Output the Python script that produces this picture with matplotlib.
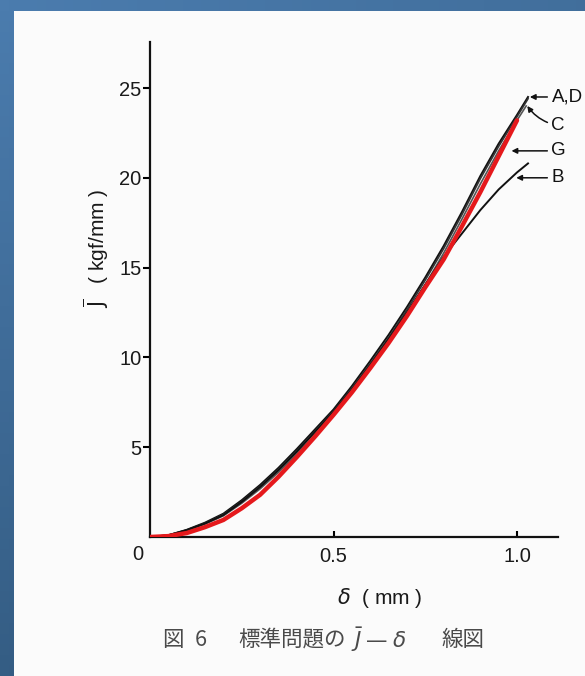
import numpy as np
import matplotlib
matplotlib.use("Agg")
import matplotlib.pyplot as plt
from matplotlib.patches import Rectangle

# deflection delta (mm) and J (kgf/mm)
delta_A = [0, 0.05, 0.1, 0.15, 0.2, 0.25, 0.3, 0.35, 0.4, 0.45, 0.5, 0.55, 0.6,
           0.65, 0.7, 0.75, 0.8, 0.85, 0.9, 0.95, 1.0, 1.03]
J_A = [0, 0.1, 0.4, 0.8, 1.3, 2.05, 2.9, 3.85, 4.9, 6.0, 7.1, 8.4, 9.8,
       11.25, 12.8, 14.45, 16.2, 18.1, 20.1, 21.9, 23.5, 24.5]
J_D = [0, 0.1, 0.38, 0.77, 1.25, 1.98, 2.82, 3.76, 4.8, 5.9, 7.0, 8.28, 9.66,
       11.1, 12.65, 14.3, 16.05, 17.95, 19.95, 21.75, 23.4, 24.4]

delta_C = [0, 0.05, 0.1, 0.15, 0.2, 0.25, 0.3, 0.35, 0.4, 0.45, 0.5, 0.55, 0.6,
           0.65, 0.7, 0.75, 0.8, 0.85, 0.9, 0.95, 1.0, 1.025]
J_C = [0, 0.08, 0.34, 0.72, 1.18, 1.88, 2.68, 3.6, 4.62, 5.7, 6.8, 8.05, 9.42,
       10.85, 12.4, 14.05, 15.8, 17.7, 19.65, 21.5, 23.2, 24.0]

delta_G = [0, 0.05, 0.1, 0.15, 0.2, 0.25, 0.3, 0.35, 0.4, 0.45, 0.5, 0.55, 0.6,
           0.65, 0.7, 0.75, 0.8, 0.85, 0.9, 0.95, 1.0]
J_G = [0, 0.05, 0.22, 0.55, 0.95, 1.6, 2.35, 3.35, 4.45, 5.6, 6.8, 8.05, 9.4,
       10.8, 12.3, 13.9, 15.45, 17.3, 19.2, 21.2, 23.2]

delta_B = [0, 0.05, 0.1, 0.15, 0.2, 0.25, 0.3, 0.35, 0.4, 0.45, 0.5, 0.55, 0.6,
           0.65, 0.7, 0.75, 0.8, 0.85, 0.9, 0.95, 1.0, 1.03]
J_B = [0, 0.1, 0.38, 0.75, 1.22, 1.95, 2.78, 3.72, 4.75, 5.85, 6.95, 8.2, 9.55,
       11.0, 12.5, 14.05, 15.6, 16.9, 18.2, 19.35, 20.3, 20.8]

W, H = 585, 676


def px(x, y):
    # figure fraction from pixel position (origin top-left)
    return x / W, 1 - y / H


def main():
    fig = plt.figure(figsize=(W / 100, H / 100), dpi=100)

    # blue frame + white page
    bg = fig.add_axes([0, 0, 1, 1], zorder=-1)
    gx, gy = np.meshgrid(np.linspace(0, 1, 64), np.linspace(0, 1, 64))
    t = 0.7 * gy + 0.3 * gx
    c1 = np.array([0x4b, 0x7c, 0xae]) / 255
    c2 = np.array([0x2b, 0x50, 0x72]) / 255
    img = c1[None, None, :] * (1 - t[..., None]) + c2[None, None, :] * t[..., None]
    bg.imshow(img, extent=[0, 1, 0, 1], aspect="auto", origin="upper")
    bg.add_patch(Rectangle((14 / W, 0), 1, 1 - 11 / H, facecolor="#fbfbfb",
                           edgecolor="none"))
    bg.set_xlim(0, 1)
    bg.set_ylim(0, 1)
    bg.axis("off")

    x0, y0 = 150, 537
    ax = fig.add_axes([x0 / W, 1 - y0 / H, 408 / W, 495 / H])
    ax.set_facecolor("none")
    ax.set_xlim(0, 408 / 367)
    ax.set_ylim(0, 495 / 17.96)

    ax.plot(delta_A, J_A, color="#111111", lw=1.4, zorder=3)
    ax.plot(delta_A, J_D, color="#333333", lw=1.2, zorder=3)
    ax.plot(delta_C, J_C, color="#555555", lw=1.2, zorder=3)
    ax.plot(delta_B, J_B, color="#111111", lw=1.4, zorder=3)
    ax.plot(delta_G, J_G, color="#e5191c", lw=3.2, zorder=4,
            solid_capstyle="round")

    for s in ["top", "right"]:
        ax.spines[s].set_visible(False)
    for s in ["left", "bottom"]:
        ax.spines[s].set_linewidth(1.6)
        ax.spines[s].set_color("#111111")

    tick_font = dict(family="Liberation Sans", size=14.5, color="#1a1a1a")
    ax.set_yticks([5, 10, 15, 20, 25])
    ax.set_yticklabels(["5", "10", "15", "20", "25"], **tick_font)
    ax.tick_params(axis="y", direction="out", length=5, width=1.5, pad=1)
    ax.set_xticks([0.5, 1.0])
    ax.set_xticklabels(["0.5", "1.0"], **tick_font)
    ax.tick_params(axis="x", direction="in", length=4, width=1.5, pad=7)
    ax.text(-0.032, -0.45, "0", ha="center", va="top", **tick_font)

    # curve labels with arrows
    arrow = dict(arrowstyle="-|>", color="#111111", lw=1.1,
                 mutation_scale=8, shrinkA=1, shrinkB=0)
    lab_font = dict(family="Liberation Sans", size=13.5, color="#111111",
                    va="center", ha="left")
    lx = 1.094
    ax.annotate("A,D", xy=(1.035, 24.5), xytext=(lx, 24.5),
                arrowprops=arrow, annotation_clip=False, **lab_font)
    ax.annotate("C", xy=(1.028, 24.0), xytext=(lx, 22.9),
                arrowprops=dict(arrow, connectionstyle="arc3,rad=-0.2"),
                annotation_clip=False, **lab_font)
    ax.annotate("G", xy=(0.985, 21.5), xytext=(lx, 21.5),
                arrowprops=arrow, annotation_clip=False, **lab_font)
    ax.annotate("B", xy=(0.998, 20.0), xytext=(lx, 20.0),
                arrowprops=arrow, annotation_clip=False, **lab_font)

    fx, fy = px(96, 248)
    fig.text(fx, fy, r"$\overline{\mathrm{J}}$   ( kgf/mm )", rotation=90,
             ha="center", va="center", family="Liberation Sans", size=15,
             color="#1a1a1a")
    fx, fy = px(380, 598)
    fig.text(fx, fy, r"$\delta$  ( mm )", ha="center", va="center",
             family="Liberation Sans", size=15, color="#1a1a1a")

    cap = dict(ha="center", va="center", size=15.5, color="#4a4a4a",
               family=["Noto Sans CJK JP", "DejaVu Sans"])
    for s, x in [("図", 173), ("6", 201), ("標準問題の", 292),
                 ("$\\bar{J}$ — $\\delta$", 379), ("線図", 463)]:
        fx, fy = px(x, 640)
        fig.text(fx, fy, s, **cap)

    fig.savefig("out.png", dpi=100)


if __name__ == "__main__":
    main()
